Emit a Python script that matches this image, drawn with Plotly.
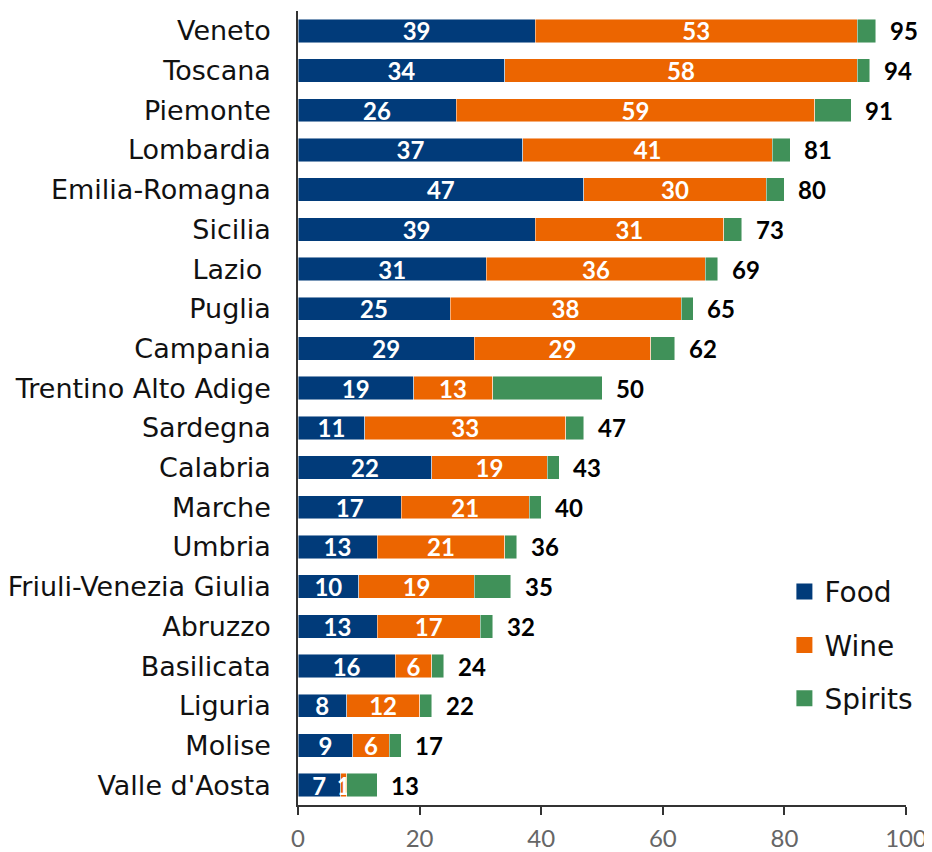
import plotly.graph_objects as go

regions = ["Veneto", "Toscana", "Piemonte", "Lombardia", "Emilia-Romagna", "Sicilia",
           "Lazio ", "Puglia", "Campania", "Trentino Alto Adige", "Sardegna", "Calabria",
           "Marche", "Umbria", "Friuli-Venezia Giulia", "Abruzzo", "Basilicata", "Liguria",
           "Molise", "Valle d'Aosta"]
food = [39, 34, 26, 37, 47, 39, 31, 25, 29, 19, 11, 22, 17, 13, 10, 13, 16, 8, 9, 7]
wine = [53, 58, 59, 41, 30, 31, 36, 38, 29, 13, 33, 19, 21, 21, 19, 17, 6, 12, 6, 1]
total = [95, 94, 91, 81, 80, 73, 69, 65, 62, 50, 47, 43, 40, 36, 35, 32, 24, 22, 17, 13]
spirits = [t - f - w for t, f, w in zip(total, food, wine)]
x_ticks = [0, 20, 40, 60, 80, 100]

C_FOOD = "#013B7A"
C_WINE = "#EC6500"
C_SPIRITS = "#409159"
NUM_FONT = "Lato"
TXT_FONT = "DejaVu Sans"

fig = go.Figure()
for name, vals, col, show in [("Food", food, C_FOOD, True), ("Wine", wine, C_WINE, True),
                              ("Spirits", spirits, C_SPIRITS, False)]:
    fig.add_trace(go.Bar(
        y=regions, x=vals, orientation="h", name=name,
        marker=dict(color=col, line=dict(color="rgba(255,255,255,0.8)", width=0.6)),
        text=[str(v) for v in vals] if show else None,
        textposition="inside" if show else "none",
        textangle=0,
        insidetextanchor="middle",
        constraintext="none",
        textfont=dict(color="white", size=24, family=NUM_FONT, weight="bold"),
        showlegend=False,
        hoverinfo="x+y+name",
    ))

# legend entries
for name, col in [("Food", C_FOOD), ("Wine", C_WINE), ("Spirits", C_SPIRITS)]:
    fig.add_trace(go.Scatter(
        x=[None], y=[None], mode="markers", name=name, legendgroup=name,
        marker=dict(symbol="square", size=18, color=col),
    ))

for r, t in zip(regions, total):
    fig.add_annotation(x=t, y=r, text=str(t), showarrow=False, xanchor="left",
                       xshift=12, font=dict(size=24, color="black", family=NUM_FONT, weight="bold"))

fig.update_layout(
    width=924, height=844,
    barmode="stack", bargap=0.41,
    margin=dict(l=290, r=26, t=3, b=47),
    plot_bgcolor="white", paper_bgcolor="white",
    font=dict(family=TXT_FONT),
    legend=dict(x=0.80, y=0.30, xanchor="left", yanchor="top",
                font=dict(size=28, color="#111111", family=TXT_FONT),
                tracegroupgap=14, traceorder="grouped",
                bgcolor="rgba(0,0,0,0)"),
    xaxis=dict(range=[0, 100], tickvals=x_ticks, showgrid=False, zeroline=False,
               automargin=False,
               showline=True, linecolor="#333333", linewidth=1.5,
               ticks="outside", ticklen=8, tickcolor="#333333", tickwidth=1.5,
               tickfont=dict(size=24, color="#666666", family=NUM_FONT),
               ticklabelstandoff=3),
    yaxis=dict(autorange="reversed", showgrid=False, zeroline=False,
               automargin=False,
               showline=True, linecolor="#333333", linewidth=1.5, ticks="",
               tickfont=dict(size=27, color="#111111", family=TXT_FONT),
               ticklabelstandoff=20),
)

fig.write_html("out.html")
